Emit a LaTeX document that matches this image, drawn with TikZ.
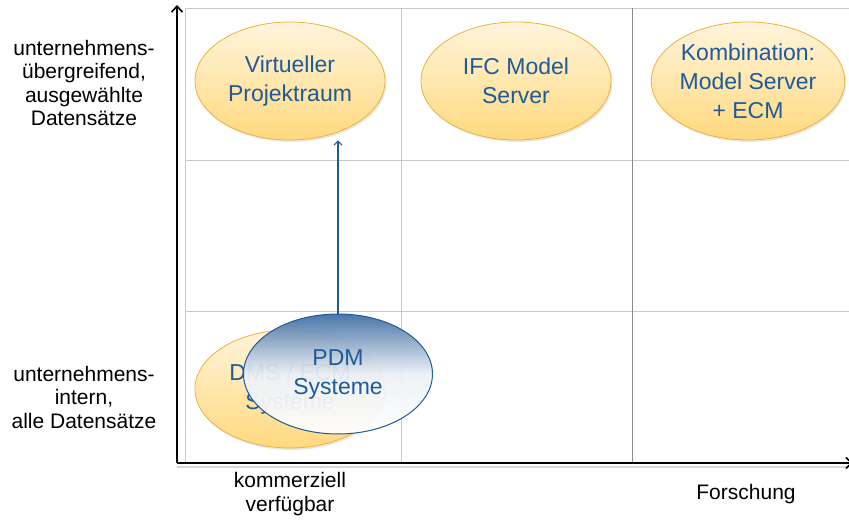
\documentclass[tikz,border=0pt]{standalone}
\usepackage{fontspec}
\setmainfont{Liberation Sans}
\usetikzlibrary{shapes.geometric,arrows.meta,shadows}
\definecolor{txtblue}{HTML}{1F5A9A}
\definecolor{gridgray}{HTML}{C8C8C8}
\definecolor{ellborder}{HTML}{EDB23A}
\definecolor{elltop}{HTML}{FFF4DC}
\definecolor{ellbot}{HTML}{FFD97E}
\definecolor{pdmtop}{HTML}{3F6DA3}
\definecolor{pdmborder}{HTML}{1F5A9A}
\tikzset{
  gridline/.style={draw=gridgray, line width=0.8pt},
  axisline/.style={draw=black, line width=2.2pt},
  oval/.style={ellipse, minimum width=190pt, minimum height=118pt, inner sep=0pt,
    draw=ellborder, line width=0.8pt, top color=elltop, bottom color=ellbot,
    text=txtblue, align=center, font=\fontsize{23}{29}\selectfont,
    drop shadow={opacity=0.18, shadow xshift=1.5pt, shadow yshift=-2pt}},
  pdmoval/.style={ellipse, minimum width=189pt, minimum height=120pt, inner sep=0pt,
    draw=pdmborder, line width=1pt, top color=pdmtop, bottom color=white, middle color=white!90!pdmtop,
    fill opacity=0.94, text opacity=1,
    text=txtblue, align=center, font=\fontsize{23}{29}\selectfont},
  axlabel/.style={align=center, text=black, font=\fontsize{21}{23.5}\selectfont},
}
\begin{document}
\begin{tikzpicture}[x=1pt,y=-1pt]
\useasboundingbox (0,0) rectangle (849,524);
% grid
\draw[gridline] (185,8) -- (852,8);
\draw[gridline] (185,160) -- (852,160);
\draw[gridline] (185,311) -- (852,311);
\draw[gridline] (185,8) -- (185,463);
\draw[gridline] (401,8) -- (401,463);
\draw[gridline, draw=gridgray!70!black] (632,8) -- (632,463);
% axes
\coordinate (origin) at (177,463);
\coordinate (ytop) at (177,5);
\coordinate (xend) at (853,463);
\draw[line width=2pt, draw=black!15, yshift=-2pt] (177,465) -- (853,465);
\draw[axisline, -{Straight Barb[length=6pt,width=11pt,line width=1.6pt]}] (origin) -- (ytop);
\draw[axisline, -{Straight Barb[length=6pt,width=11pt,line width=1.6pt]}] (origin) -- (xend);
% axis labels
\node[axlabel] (ylab1) at (84,83) {unternehmens-\\übergreifend,\\ausgewählte\\Datensätze};
\node[axlabel] (ylab2) at (84,397) {unternehmens-\\intern,\\alle Datensätze};
\node[axlabel] (xlab1) at (290,494) {kommerziell\\verfügbar};
\node[axlabel] (xlab2) at (746,494) {Forschung};
% ellipses
\node[oval] (vp) at (290,81) {Virtueller\\Projektraum};
\node[oval] (ifc) at (516,81) {IFC Model\\Server};
\node[oval] (komb) at (748,81) {Kombination:\\Model Server\\+ ECM};
\node[oval] (dms) at (290,389) {DMS / ECM\\Systeme};
\node[pdmoval] (pdm) at (338,374) {PDM\\Systeme};
% arrow
\draw[draw=txtblue, line width=1.2pt, -{Straight Barb[length=4pt,width=8pt,line width=1pt]}] (pdm.north) -- (pdm.north |- vp.south);
\end{tikzpicture}
\end{document}
